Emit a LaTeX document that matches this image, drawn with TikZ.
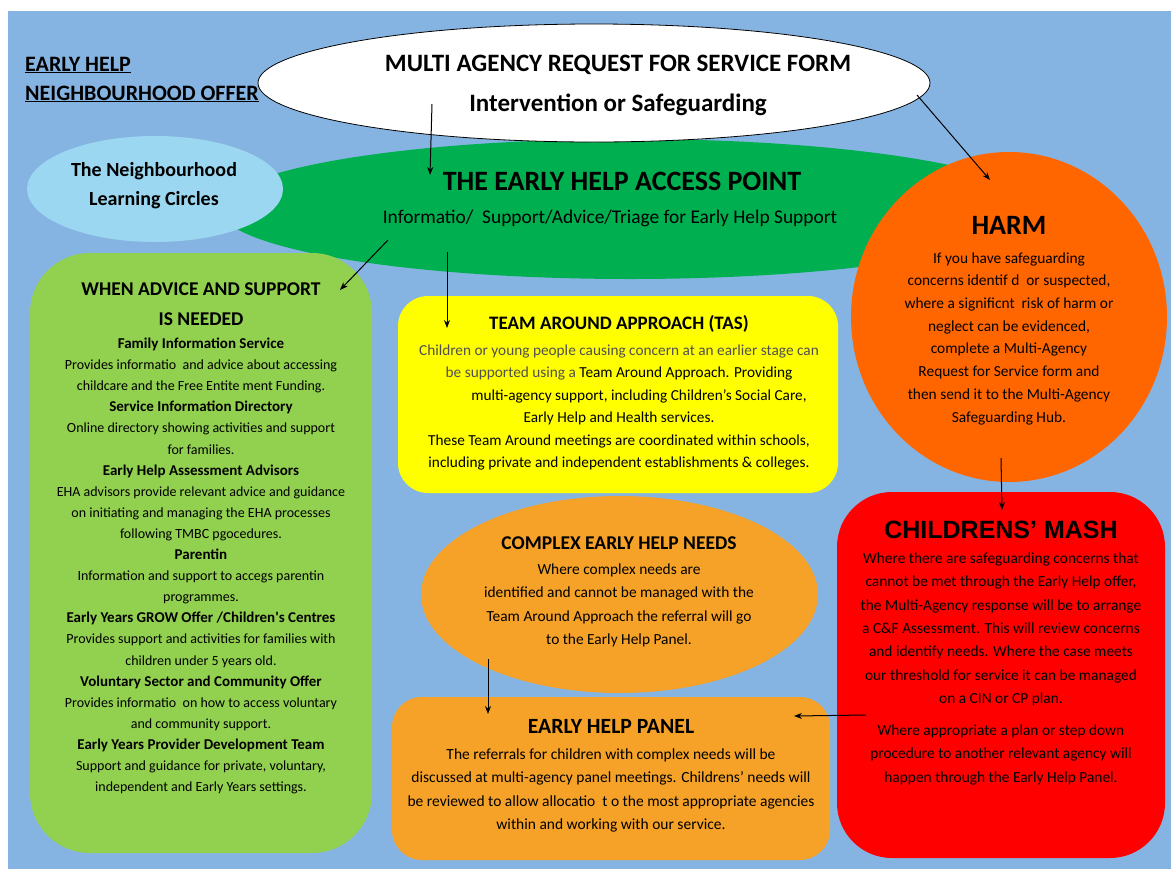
\documentclass[tikz,border=0pt]{standalone}
\usepackage{fontspec}
\setmainfont{Carlito}
\newfontfamily\arialfont{Liberation Sans}
\usetikzlibrary{shapes.geometric,arrows.meta}
\definecolor{skyback}{RGB}{134,180,226}
\definecolor{accessgreen}{RGB}{0,176,80}
\definecolor{circleblue}{RGB}{155,215,240}
\definecolor{harmorange}{RGB}{255,102,0}
\definecolor{advicegreen}{RGB}{146,208,80}
\definecolor{tasyellow}{RGB}{255,255,0}
\definecolor{panelorange}{RGB}{246,162,40}
\definecolor{mashred}{RGB}{255,0,0}
\definecolor{tasgray}{RGB}{80,80,80}
\newcommand\fsz[2]{\fontsize{#1}{#2}\selectfont}
\newcommand\advhead[1]{{\fsz{15}{21.1}\bfseries #1}}

\begin{document}
\begin{tikzpicture}[x=1pt,y=-1pt,
    blob/.style={ellipse,inner sep=0pt},
    card/.style={rectangle,inner sep=0pt},
    txt/.style={anchor=base,align=center,inner sep=0pt},
    link/.style={->,line width=1pt},
    >={Stealth[length=8pt,width=6pt]}]
    \useasboundingbox (0,0) rectangle (1171,871);
    \fill[white] (0,0) rectangle (1171,871);
    \fill[skyback] (8,11) rectangle (1171,869); % background

    % shapes
    \node[blob,fill=accessgreen,minimum width=820pt,minimum height=140pt] (access) at (630,209) {}; % access point
    \node[blob,fill=white,draw=black,line width=0.8pt,minimum width=672pt,minimum height=118pt] (req) at (594,83) {}; % request form
    \node[blob,fill=circleblue,minimum width=256pt,minimum height=106pt] (circles) at (155,189) {}; % learning circles
    \node[blob,fill=harmorange,minimum width=316pt,minimum height=330pt] (harm) at (1009,317) {}; % harm
    \node[card,fill=advicegreen,rounded corners=60pt,minimum width=342pt,minimum height=600pt] (advice) at (201,553) {}; % advice and support
    \node[card,fill=tasyellow,rounded corners=30pt,minimum width=440pt,minimum height=197pt] (tas) at (618,394.5) {}; % team around
    \node[blob,fill=panelorange,minimum width=397pt,minimum height=197pt] (complex) at (619.5,594.5) {}; % complex needs
    \node[card,fill=panelorange,rounded corners=30pt,minimum width=438pt,minimum height=163pt] (panel) at (611,778.5) {}; % panel
    \node[card,fill=mashred,rounded corners=55pt,minimum width=328pt,minimum height=366pt] (mash) at (1001,675) {}; % mash

    % texts (base = last line)
    \node[txt,anchor=base west,align=left,font=\fsz{22}{29}\bfseries] (title) at (25,100) {\underline{EARLY HELP}\\\underline{NEIGHBOURHOOD OFFER}};
    \node[txt,font=\fsz{25}{40}\bfseries] (reqtext) at (618,111.5) {MULTI AGENCY REQUEST FOR SERVICE FORM\\Intervention or Safeguarding};
    \node[txt,font=\fsz{28}{34}\bfseries] (accesstitle) at (622,190) {THE EARLY HELP ACCESS POINT};
    \node[txt,font=\fsz{19.4}{24}] (accessinfo) at (610,223) {Informatio/\ \ Support/Advice/Triage for Early Help Support};
    \node[txt,font=\fsz{20}{29}\bfseries] (circlestext) at (154,205) {The Neighbourhood\\Learning Circles};
    \node[txt,font=\fsz{28}{34}\bfseries] (harmtitle) at (1009,234) {HARM};
    \node[txt,font=\fsz{15.4}{22.7}] (harmtext) at (1009,422) {If you have safeguarding\\concerns identif d\ \ or suspected,\\where a significnt\ \ risk of harm or\\neglect can be evidenced,\\complete a Multi-Agency\\Request for Service form and\\then send it to the Multi-Agency\\Safeguarding Hub.};
    \node[txt,font=\fsz{19.5}{30}\bfseries] (advicetitle) at (201,325) {WHEN ADVICE AND SUPPORT\\IS NEEDED};
    \node[txt,font=\fsz{14}{21.1}] (advicetext) at (201,791.6) {\advhead{Family Information Service}\\Provides informatio\ \ and advice about accessing\\childcare and the Free Entite ment Funding.\\\advhead{Service Information Directory}\\Online directory showing activities and support\\for families.\\\advhead{Early Help Assessment Advisors}\\EHA advisors provide relevant advice and guidance\\on initiating and managing the EHA processes\\following TMBC pgocedures.\\\advhead{Parentin}\\Information and support to accegs parentin\\programmes.\\\advhead{Early Years GROW Offer /Children\textquotesingle s Centres}\\Provides support and activities for families with\\children under 5 years old.\\\advhead{Voluntary Sector and Community Offer}\\Provides informatio\ \ on how to access voluntary\\and community support.\\\advhead{Early Years Provider Development Team}\\Support and guidance for private, voluntary,\\independent and Early Years settings.};
    \node[txt,font=\fsz{19}{24}\bfseries] (tastitle) at (619,329) {TEAM AROUND APPROACH (TAS)};
    \node[txt,font=\fsz{15.3}{22.4}] (tastext) at (619,467.5) {{\color{tasgray}Children or young people causing concern at an earlier stage can}\\{\color{tasgray}be supported using a} Team Around Approach. Providing\\\hspace*{40pt}multi-agency support, including Children’s Social Care,\\Early Help and Health services.\\These Team Around meetings are coordinated within schools,\\including private and independent establishments \& colleges.};
    \node[txt,font=\fsz{19.5}{24}\bfseries] (complextitle) at (619,549) {COMPLEX EARLY HELP NEEDS};
    \node[txt,font=\fsz{15.4}{23.3}] (complextext) at (619,644.4) {Where complex needs are\\identified and cannot be managed with the\\Team Around Approach the referral will go\\to the Early Help Panel.};
    \node[txt,font=\fsz{21.7}{26}\bfseries] (paneltitle) at (611,733) {EARLY HELP PANEL};
    \node[txt,font=\fsz{15.5}{23.3}] (paneltext) at (611,829.4) {The referrals for children with complex needs will be\\discussed at multi-agency panel meetings. Childrens’ needs will\\be reviewed to allow allocatio\ \ t o the most appropriate agencies\\within and working with our service.};
    \node[txt,font=\arialfont\fsz{25}{30}\bfseries] (mashtitle) at (1001,538) {CHILDRENS’ MASH};
    \node[txt,font=\fsz{15.4}{23.3}] (mashtext) at (1001,703.3) {Where there are safeguarding concerns that\\cannot be met through the Early Help offer,\\the Multi-Agency response will be to arrange\\a C\&F Assessment. This will review concerns\\and identify needs. Where the case meets\\our threshold for service it can be managed\\on a CIN or CP plan.};
    \node[txt,font=\fsz{15.4}{23.3}] (mashstep) at (1001,782.1) {Where appropriate a plan or step down\\procedure to another relevant agency will\\happen through the Early Help Panel.};

    % arrows
    \draw[link] ([shift={(-162,21)}]req.center) -- ([shift={(-200,-34)}]access.center); % request to access point
    \draw[link] ([shift={(323,12)}]req.center) -- ([shift={(-19,-137)}]harm.center); % request to harm
    \draw[link] ([shift={(-242,31)}]access.center) -- ([shift={(139,-263)}]advice.center); % access to advice
    \draw[link] ([shift={(-183,43)}]access.center) -- ([shift={(-171,-66.5)}]tas.center); % access to team around
    \draw[link] ([shift={(-8,141)}]harm.center) -- ([shift={(1,-165)}]mash.center); % harm to mash
    \draw[link] ([shift={(-131.5,64.5)}]complex.center) -- ([shift={(-123,-64.5)}]panel.center); % complex to panel
    \draw[link] ([shift={(-135,40)}]mash.center) -- ([shift={(183,-62.5)}]panel.center); % mash to panel
\end{tikzpicture}
\end{document}
